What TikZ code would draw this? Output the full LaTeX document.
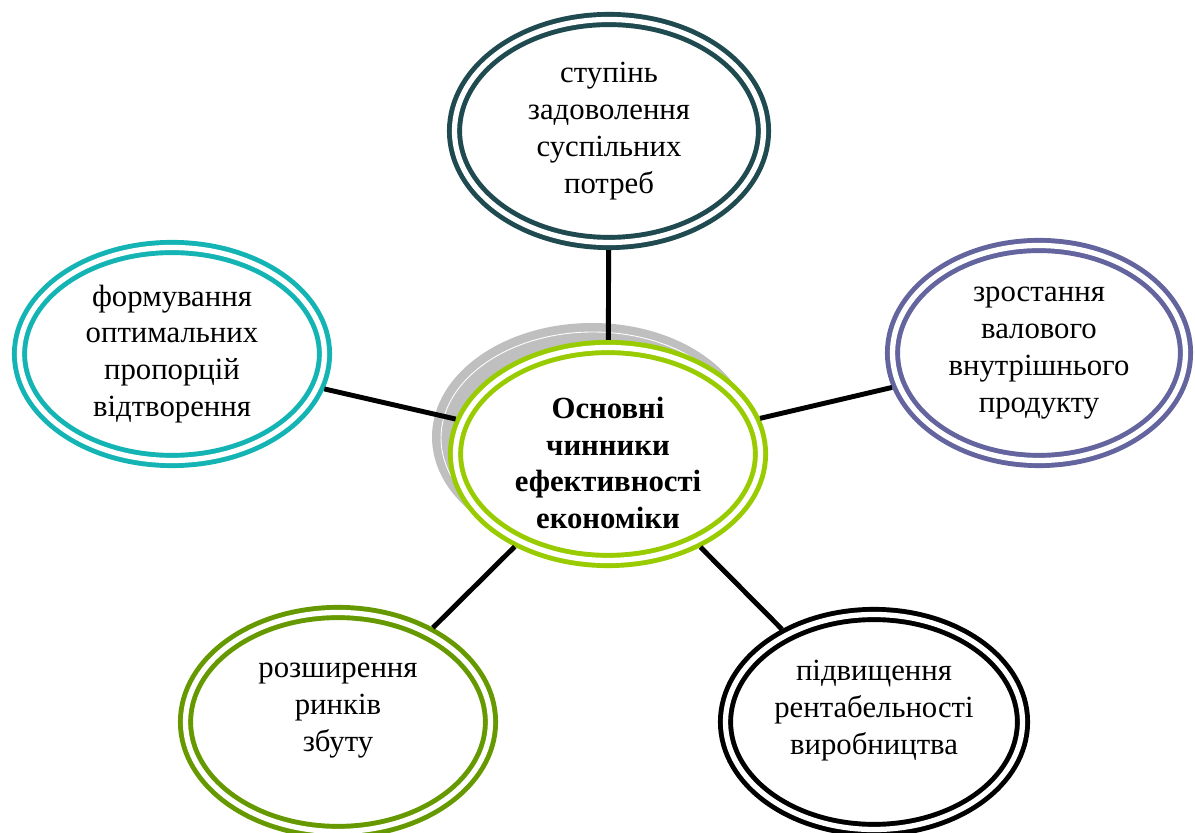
\documentclass[tikz,border=0pt]{standalone}
\usepackage{fontspec}
\setmainfont{Liberation Serif}
\usepackage{xcolor}
\usetikzlibrary{shapes.geometric}
\definecolor{cDeep}{RGB}{31,74,80}
\definecolor{cTeal}{RGB}{20,180,180}
\definecolor{cLilac}{RGB}{100,100,158}
\definecolor{cOlive}{RGB}{102,153,0}
\definecolor{cLime}{RGB}{153,204,0}
\definecolor{cShade}{RGB}{191,191,191}
\tikzset{
	factor/.style={ellipse, draw, double, line width=2.8pt, double distance=3pt, fill=white, align=center, inner sep=0pt, outer sep=4.3pt},
	link/.style  ={line width=2.8pt, draw=black},
}

\begin{document}
\begin{tikzpicture}[every node/.style={font=\fontsize{17.5}{21}\selectfont},
					core/.style={factor, draw=cLime, minimum width=6.1cm, minimum height=4.26cm, font=\bfseries\fontsize{17.5}{21}\selectfont}]
	\useasboundingbox (0,0) rectangle (23.9,16.66);
	% shadow behind the central ellipse
	\fill[cShade] (11.84,7.92) ellipse [x radius=3.2cm, y radius=2.28cm];
	\draw[white, line width=0.5pt] (11.86,7.9) ellipse [x radius=3.04cm, y radius=2.12cm];
	\node[core, text height=3cm] (core) at (12.16,7.58) {Основні\\чинники\\ефективності\\економіки};
	\node[factor, draw=cDeep, minimum width=6.18cm, minimum height=4.46cm] (needs) at (12.18,14.04) {ступінь\\задоволення\\суспільних\\потреб};
	\node[factor, draw=cTeal, minimum width=6.1cm, minimum height=4.26cm] (prop) at (3.44,9.58) {формування\\оптимальних\\пропорцій\\відтворення};
	\node[factor, draw=cLilac, minimum width=5.86cm, minimum height=4.3cm] (gdp) at (20.78,9.6) {зростання\\валового\\внутрішнього\\продукту};
	\node[factor, draw=cOlive, minimum width=6.1cm, minimum height=4.38cm, text depth=0.6cm] (market) at (6.76,2.22) {розширення\\ринків\\збуту};
	\node[factor, draw=black, minimum width=5.94cm, minimum height=4.3cm, text depth=0.6cm] (profit) at (17.48,2.22) {підвищення\\рентабельності\\виробництва};
	\draw[link] (needs) -- (core);
	\draw[link] (prop) -- (core);
	\draw[link] (gdp) -- (core);
	\draw[link] (market) -- (core);
	\draw[link] (profit) -- (core);
\end{tikzpicture}
\end{document}
